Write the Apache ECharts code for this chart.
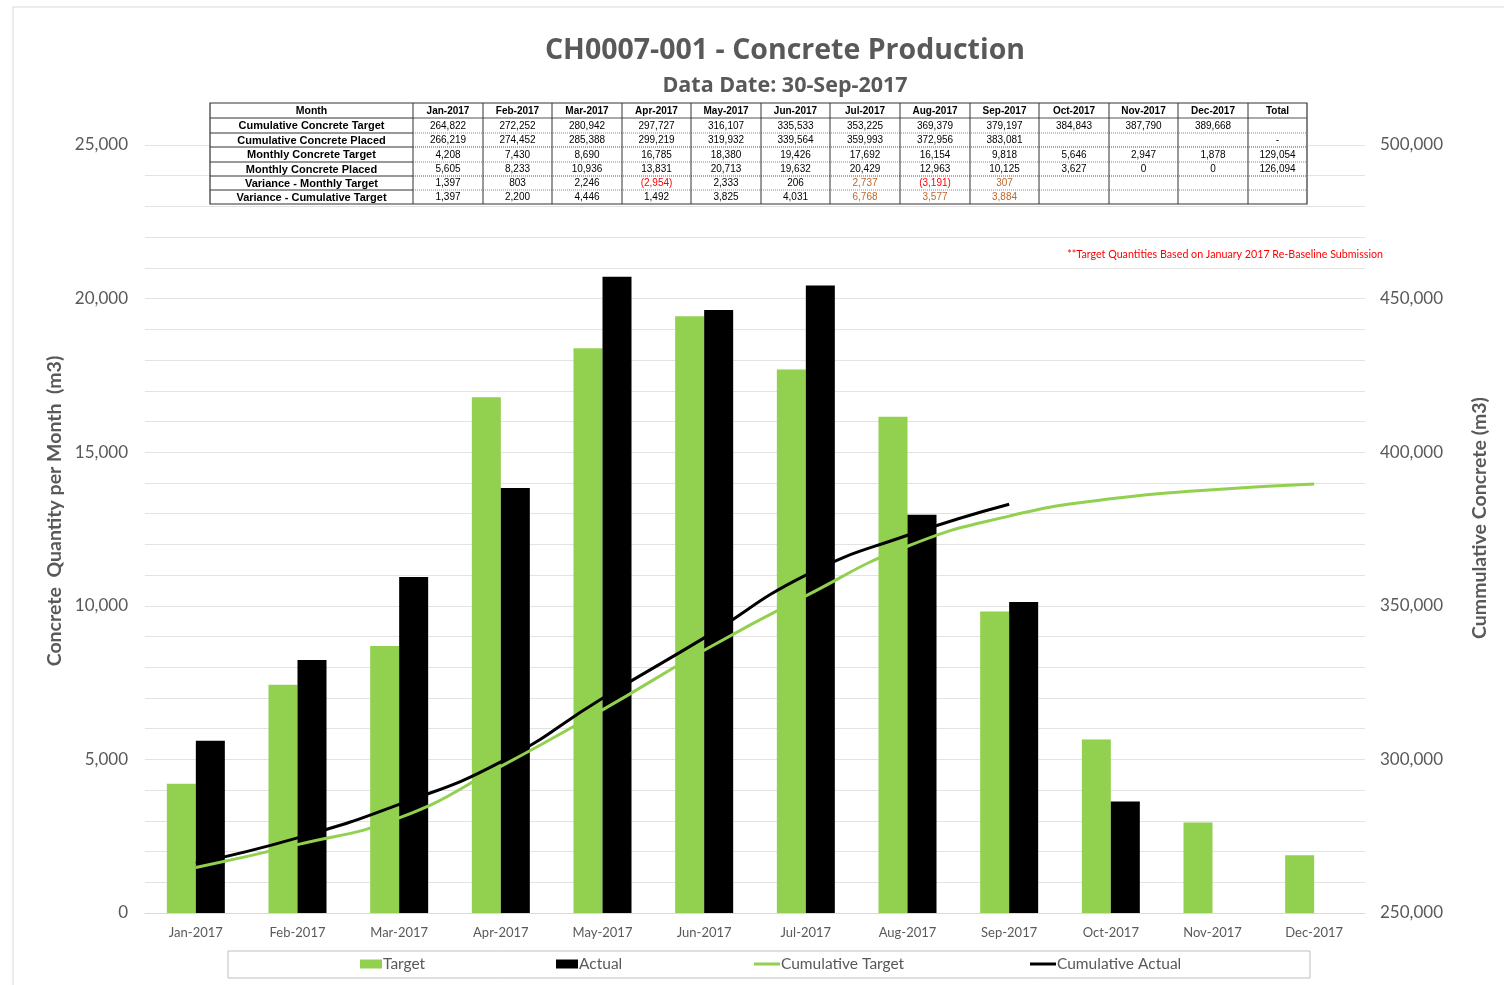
<!DOCTYPE html>
<html>
<head>
<meta charset="utf-8">
<script src="https://cdn.jsdelivr.net/npm/echarts@6/dist/echarts.min.js"></script>
<style>
  html, body { margin: 0; padding: 0; background: #fff; }
  #chart { width: 1504px; height: 985px; }
</style>
</head>
<body>
<div id="chart"></div>
<script>
const months = ['Jan-2017', 'Feb-2017', 'Mar-2017', 'Apr-2017', 'May-2017', 'Jun-2017',
  'Jul-2017', 'Aug-2017', 'Sep-2017', 'Oct-2017', 'Nov-2017', 'Dec-2017'];
const monthlyTarget = [4208, 7430, 8690, 16785, 18380, 19426, 17692, 16154, 9818, 5646, 2947, 1878];
const monthlyActual = [5605, 8233, 10936, 13831, 20713, 19632, 20429, 12963, 10125, 3627, 0, 0];
const cumTarget = [264822, 272252, 280942, 297727, 316107, 335533, 353225, 369379, 379197, 384843, 387790, 389668];
const cumActual = [266219, 274452, 285388, 299219, 319932, 339564, 359993, 372956, 383081];
const varMonthly = [1397, 803, 2246, -2954, 2333, 206, 2737, -3191, 307];
const varCumulative = [1397, 2200, 4446, 1492, 3825, 4031, 6768, 3577, 3884];
const totalCells = ['', '-', '129,054', '126,094', '', ''];
const rowLabels = ['Cumulative Concrete Target', 'Cumulative Concrete Placed', 'Monthly Concrete Target',
  'Monthly Concrete Placed', 'Variance - Monthly Target', 'Variance - Cumulative Target'];
const leftTicks = [0, 5000, 10000, 15000, 20000, 25000];
const rightTicks = [250000, 300000, 350000, 400000, 450000, 500000];

const fmt = v => v == null ? '' : (v < 0 ? '(' + Math.abs(v).toLocaleString('en-US') + ')' : v.toLocaleString('en-US'));

// table rows (values as in the source table)
const tableRows = [cumTarget, cumActual, monthlyTarget, monthlyActual, varMonthly, varCumulative];

// ---- table graphic ----
const colX = [210, 413, 483, 552, 622, 691, 761, 830, 900, 970, 1039, 1109, 1178, 1248, 1307];
const rowY = [103, 118, 133, 147, 162, 176, 190, 204];
const g = [];
g.push({ type: 'rect', shape: { x: colX[0], y: rowY[0], width: colX[14] - colX[0], height: rowY[7] - rowY[0] },
  style: { fill: '#fff', stroke: '#333', lineWidth: 1.2 }, z: 10 });
// horizontal lines
for (let r = 1; r < 7; r++) {
  const solid = r === 1 || r === 3 || r === 5;
  g.push({ type: 'line', shape: { x1: colX[0], y1: rowY[r], x2: colX[1], y2: rowY[r] },
    style: { stroke: '#333', lineWidth: 1 }, z: 11 });
  g.push({ type: 'line', shape: { x1: colX[1], y1: rowY[r], x2: colX[14], y2: rowY[r] },
    style: { stroke: solid ? '#555' : '#888', lineWidth: 1, lineDash: r === 1 ? null : [1, 1] }, z: 11 });
}
// vertical lines
for (let c = 1; c < 14; c++) {
  g.push({ type: 'line', shape: { x1: colX[c], y1: rowY[0], x2: colX[c], y2: rowY[7] },
    style: { stroke: '#333', lineWidth: 1 }, z: 11 });
}
const cellText = (txt, c, r, font, color) => ({
  type: 'text', z: 12,
  x: (colX[c] + colX[c + 1]) / 2, y: (rowY[r] + rowY[r + 1]) / 2 + 0.5,
  style: { text: txt, font: font + ' "Liberation Sans", Arial, sans-serif',
    fill: color || '#000', textAlign: 'center', textVerticalAlign: 'middle' }
});
g.push(cellText('Month', 0, 0, 'bold 10.5px'));
months.forEach((m, i) => g.push(cellText(m, i + 1, 0, 'bold 10px')));
g.push(cellText('Total', 13, 0, 'bold 10px'));
rowLabels.forEach((lab, r) => {
  g.push(cellText(lab, 0, r + 1, 'bold 11px'));
  tableRows[r].forEach((v, i) => {
    if (v == null) return;
    let color = '#000';
    if (r >= 4) {
      if (v < 0) color = '#ff0000';
      else if (i >= 6) color = '#c0662b';
    }
    g.push(cellText(fmt(v), i + 1, r + 1, '10px', color));
  });
  g.push(cellText(totalCells[r], 13, r + 1, '10px'));
});
// note
g.push({ type: 'text', z: 12, x: 1383, y: 255,
  style: { text: '**Target Quantities Based on January 2017 Re-Baseline Submission',
    font: '10.7px Lato, "Open Sans", sans-serif', fill: '#ff0000', textAlign: 'right', textVerticalAlign: 'middle' } });
// axis titles
const axisNameFont = 'bold 19.5px Lato, "Open Sans", sans-serif';
g.push({ type: 'text', z: 5, x: 55, y: 511, rotation: Math.PI / 2,
  style: { text: 'Concrete  Quantity per Month  (m3)', font: axisNameFont, fill: '#595959',
    textAlign: 'center', textVerticalAlign: 'middle' } });
g.push({ type: 'text', z: 5, x: 1480, y: 518, rotation: Math.PI / 2,
  style: { text: 'Cummulative Concrete (m3)', font: axisNameFont, fill: '#595959',
    textAlign: 'center', textVerticalAlign: 'middle' } });
// outer border and legend box
g.push({ type: 'rect', z: 0, shape: { x: 13, y: 7, width: 1500, height: 1000 },
  style: { fill: 'none', stroke: '#d9d9d9', lineWidth: 1 } });
g.push({ type: 'rect', z: 0, shape: { x: 228, y: 951, width: 1082, height: 27 },
  style: { fill: 'none', stroke: '#bfbfbf', lineWidth: 1 } });

const lineIcon = 'path://M0,0 H26 V3 H0 Z';
const legendBase = { top: 956, padding: 0, itemWidth: 22, itemHeight: 9, symbolKeepAspect: true,
  textStyle: { fontSize: 15.5, color: '#595959', padding: [0, 0, 0, -4] } };

const chart = echarts.init(document.getElementById('chart'));
const txtColor = '#595959';
chart.setOption({
  animation: false,
  textStyle: { fontFamily: 'Lato, "Open Sans", sans-serif' },
  title: [
    { text: 'CH0007-001 - Concrete Production', left: 780, textAlign: 'center', top: 31,
      textStyle: { fontSize: 28.5, fontWeight: 'bold', color: txtColor, fontFamily: '"Open Sans", Lato, sans-serif' } },
    { text: 'Data Date: 30-Sep-2017', left: 780, textAlign: 'center', top: 70,
      textStyle: { fontSize: 21.5, fontWeight: 'bold', color: txtColor, fontFamily: '"Open Sans", Lato, sans-serif' } }
  ],
  legend: [
    Object.assign({ left: 360, data: [{ name: 'Target', icon: 'rect' }] }, legendBase),
    Object.assign({ left: 556, data: [{ name: 'Actual', icon: 'rect' }] }, legendBase),
    Object.assign({ left: 754, data: [{ name: 'Cumulative Target', icon: lineIcon }] }, legendBase, { itemWidth: 26 }),
    Object.assign({ left: 1030, data: [{ name: 'Cumulative Actual', icon: lineIcon }] }, legendBase, { itemWidth: 26 })
  ],
  grid: { left: 145, right: 139, top: 145, bottom: 72 },
  xAxis: {
    type: 'category', data: months,
    axisLine: { lineStyle: { color: '#d9d9d9' } },
    axisTick: { show: false },
    axisLabel: { color: txtColor, fontSize: 13, margin: 13 }
  },
  yAxis: [
    {
      type: 'value', min: 0, max: 25000, interval: 1000,
      axisLine: { show: false }, axisTick: { show: false },
      axisLabel: { color: txtColor, fontSize: 17, margin: 17,
        formatter: v => leftTicks.includes(v) ? v.toLocaleString('en-US') : '' },
      splitLine: { lineStyle: { color: '#e3e3e3' } }
    },
    {
      type: 'value', min: 250000, max: 500000, interval: 10000, position: 'right',
      axisLine: { show: false }, axisTick: { show: false },
      axisLabel: { color: txtColor, fontSize: 17, margin: 15,
        formatter: v => rightTicks.includes(v) ? v.toLocaleString('en-US') : '' },
      splitLine: { show: false }
    }
  ],
  series: [
    { name: 'Target', type: 'bar', data: monthlyTarget, barWidth: 29, barGap: '0%',
      itemStyle: { color: '#92d050' } },
    { name: 'Actual', type: 'bar', data: monthlyActual, barWidth: 29,
      itemStyle: { color: '#000000' } },
    { name: 'Cumulative Target', type: 'line', yAxisIndex: 1, data: cumTarget, smooth: true,
      showSymbol: false, symbol: 'none', lineStyle: { color: '#92d050', width: 3 }, itemStyle: { color: '#92d050' } },
    { name: 'Cumulative Actual', type: 'line', yAxisIndex: 1, data: cumActual, smooth: true,
      showSymbol: false, symbol: 'none', lineStyle: { color: '#000000', width: 3 }, itemStyle: { color: '#000000' } }
  ],
  graphic: { elements: g }
});
</script>
</body>
</html>
